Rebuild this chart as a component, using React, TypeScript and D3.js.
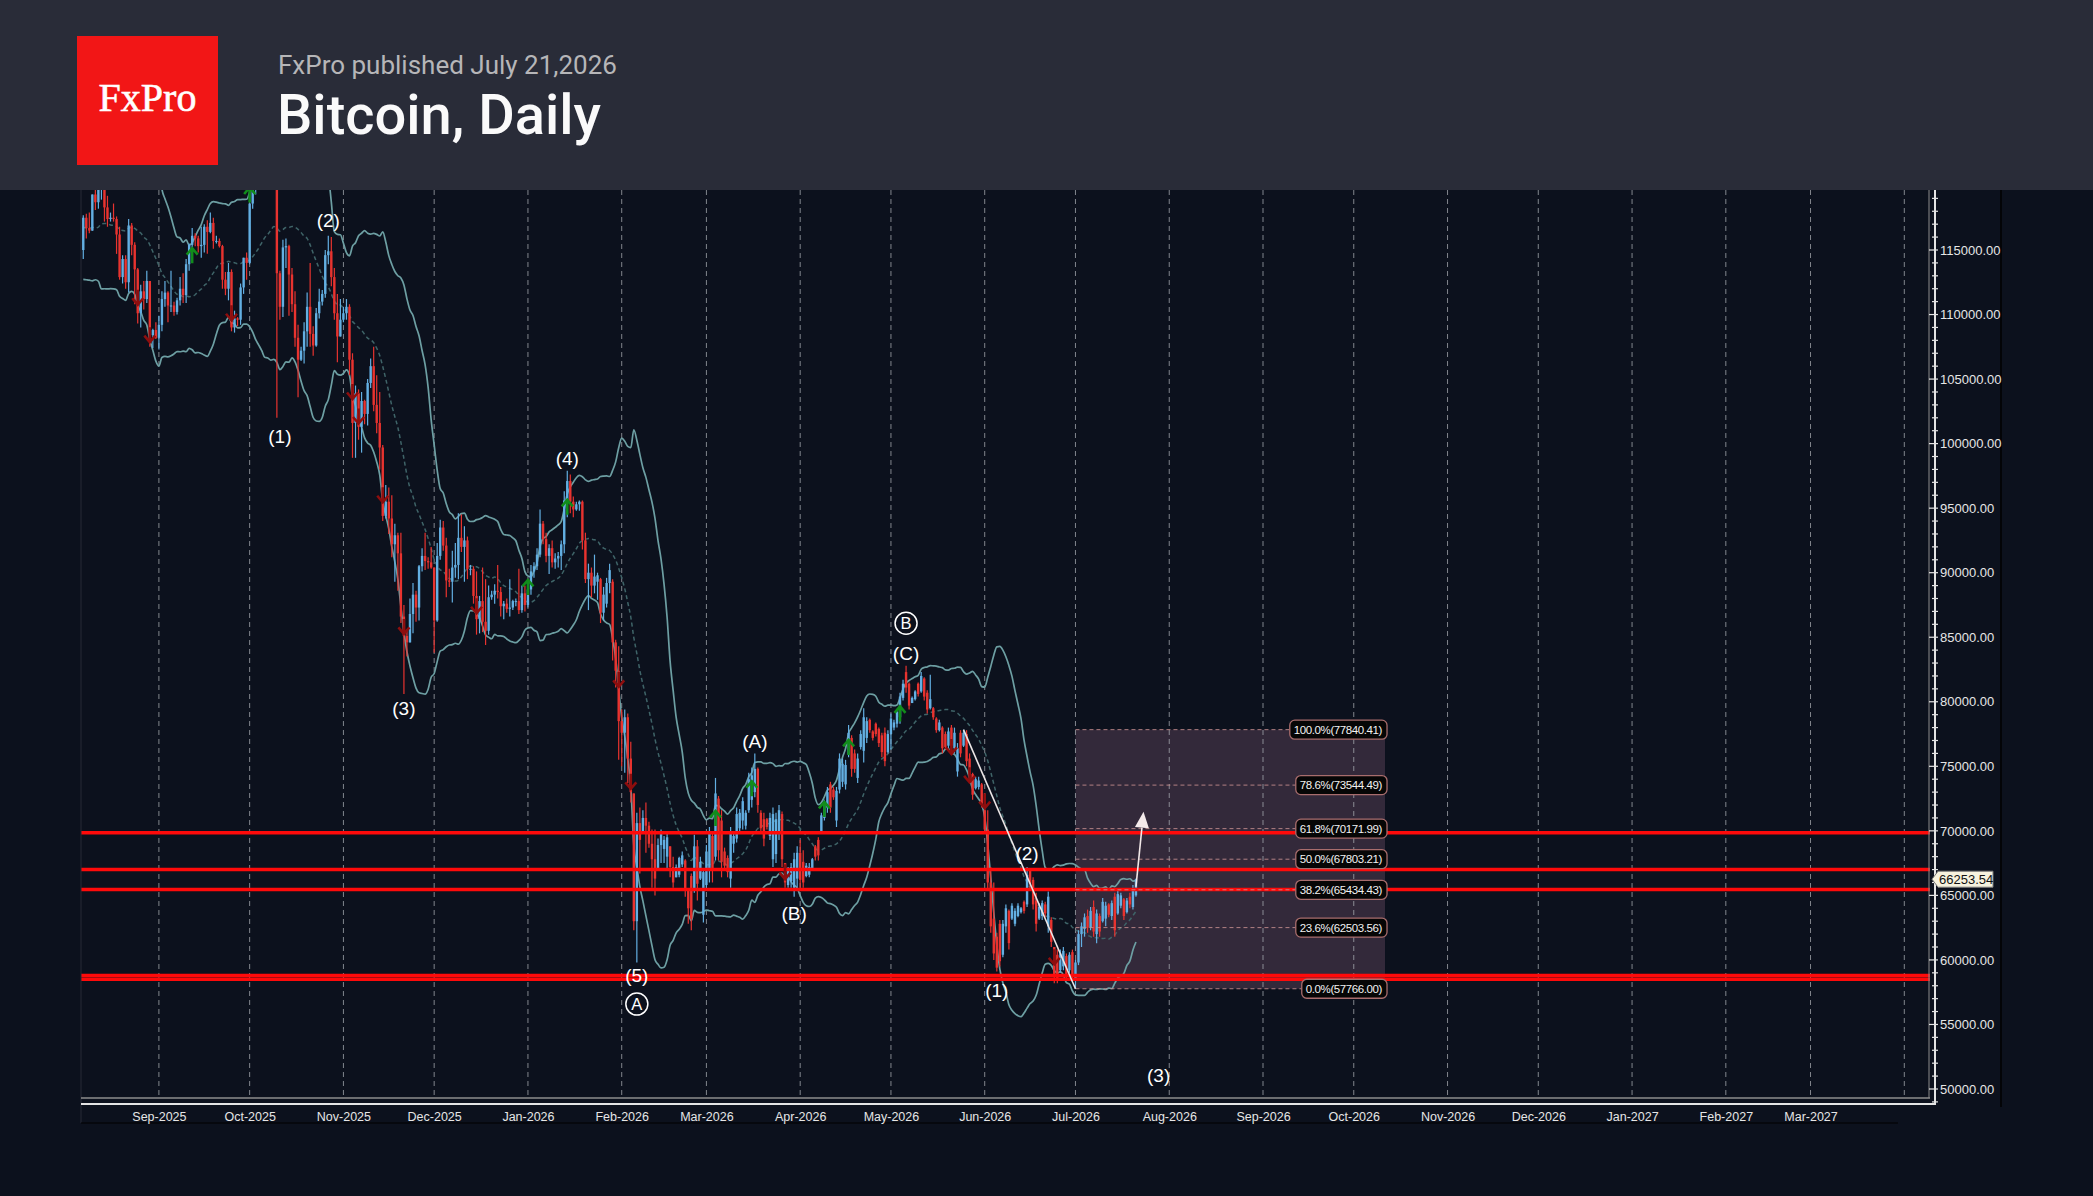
import * as d3 from 'd3';
import { useEffect, useRef } from 'react';

const WIDTH = 2093;
const HEIGHT = 1196;

// daily candles, [open, high, low, close] in thousands of USD
const aug2025 = [
  [115.0, 117.7, 114.3, 117.5], [117.5, 117.8, 115.9, 116.7], [116.7, 117.9, 116.3, 116.5],
  [116.5, 119.3, 116.5, 119.3], [119.3, 122.3, 118.1, 118.7], [118.7, 120.3, 118.2, 120.1],
  [120.1, 123.7, 118.9, 123.3], [123.3, 124.4, 117.2, 118.3], [118.3, 119.2, 116.8, 117.4],
  [117.4, 117.9, 117.2, 117.5], [117.5, 118.6, 117.2, 117.4], [117.4, 117.6, 114.7, 116.2],
  [116.2, 116.8, 112.7, 112.9], [112.9, 114.6, 112.4, 114.3], [114.3, 114.6, 112.0, 112.5],
  [112.5, 117.4, 111.7, 116.9], [116.9, 117.1, 114.6, 115.4], [115.4, 115.6, 110.8, 113.5],
  [113.5, 113.6, 109.3, 110.1], [110.1, 112.3, 109.0, 111.8], [111.8, 112.6, 110.4, 111.2],
  [111.2, 113.4, 110.9, 112.6], [112.6, 112.6, 107.5, 108.4], [108.4, 108.9, 107.4, 108.8],
  [108.8, 109.4, 108.1, 108.2],
];
const sep2025 = [
  [108.2, 109.9, 107.3, 109.2], [109.2, 111.8, 108.7, 111.2], [111.2, 112.6, 110.6, 111.7],
  [111.7, 111.8, 109.4, 110.7], [110.7, 113.4, 110.2, 110.7], [110.7, 111.0, 109.9, 110.2],
  [110.2, 111.3, 110.0, 111.1], [111.1, 112.9, 110.7, 112.0], [112.0, 113.2, 110.9, 111.5],
  [111.5, 114.3, 110.9, 113.9], [113.9, 115.5, 113.4, 115.4], [115.4, 116.7, 114.8, 116.1],
  [116.1, 116.3, 115.3, 115.9], [115.9, 116.1, 114.8, 115.3], [115.3, 116.8, 114.4, 115.4],
  [115.4, 117.0, 114.8, 116.8], [116.8, 117.3, 114.7, 116.4], [116.4, 117.9, 116.3, 117.1],
  [117.1, 117.5, 115.1, 115.7], [115.7, 116.1, 115.5, 115.7], [115.7, 115.9, 115.2, 115.3],
  [115.3, 115.4, 112.0, 112.7], [112.7, 113.3, 111.5, 112.0], [112.0, 114.0, 111.1, 113.3],
  [113.3, 113.5, 108.7, 109.0], [109.0, 110.3, 108.6, 109.7], [109.7, 109.8, 109.1, 109.6],
  [109.6, 112.4, 109.2, 112.1], [112.1, 114.4, 111.6, 114.4], [114.4, 114.8, 112.7, 114.0],
];
const oct2025 = [
  [114.0, 118.6, 113.9, 118.6], [118.6, 121.0, 118.2, 120.6], [120.6, 123.9, 119.3, 122.3],
  [122.3, 122.9, 121.7, 122.4], [122.4, 125.5, 122.2, 123.5], [123.5, 126.2, 123.1, 124.8],
  [124.8, 125.2, 120.6, 121.4], [121.4, 124.2, 121.1, 123.3], [123.3, 123.8, 119.7, 121.7],
  [121.7, 122.5, 102.0, 113.2], [113.2, 113.4, 109.6, 110.6], [110.6, 115.8, 109.8, 115.2],
  [115.2, 115.9, 113.6, 115.3], [115.3, 115.4, 109.9, 113.1], [113.1, 113.6, 110.2, 110.8],
  [110.8, 111.8, 107.5, 108.2], [108.2, 109.2, 103.6, 106.5], [106.5, 107.5, 106.4, 107.2],
  [107.2, 109.4, 106.2, 108.7], [108.7, 111.7, 107.5, 110.6], [110.6, 114.0, 107.5, 108.5],
  [108.5, 109.1, 106.8, 107.6], [107.6, 110.5, 107.5, 110.1], [110.1, 112.0, 109.7, 111.0],
  [111.0, 111.9, 110.7, 111.6], [111.6, 115.0, 111.3, 114.6], [114.6, 116.1, 113.9, 114.9],
  [114.9, 116.0, 112.2, 112.9], [112.9, 113.6, 109.6, 110.1], [110.1, 111.6, 106.3, 108.3],
  [108.3, 111.2, 108.3, 109.6],
];
const nov2025 = [
  [109.6, 110.6, 109.4, 110.1], [110.1, 111.2, 109.6, 110.6], [110.6, 110.8, 105.3, 106.5],
  [106.5, 107.0, 98.9, 101.6], [101.6, 104.5, 98.9, 103.9], [103.9, 104.2, 100.3, 101.3],
  [101.3, 104.0, 99.3, 103.3], [103.3, 103.4, 101.5, 102.3], [102.3, 105.0, 101.4, 104.7],
  [104.7, 106.6, 104.3, 106.0], [106.0, 107.5, 102.5, 103.0], [103.0, 105.3, 100.8, 101.6],
  [101.6, 104.0, 98.0, 99.7], [99.7, 99.9, 94.0, 94.4], [94.4, 96.8, 94.2, 95.5],
  [95.5, 96.6, 93.0, 94.2], [94.2, 96.0, 91.2, 92.2], [92.2, 93.8, 89.3, 92.9],
  [92.9, 93.1, 88.6, 91.5], [91.5, 93.1, 86.1, 86.6], [86.6, 87.5, 80.6, 85.1],
  [85.1, 85.6, 83.5, 84.6], [84.6, 88.0, 84.6, 86.8], [86.8, 89.2, 85.3, 88.3],
  [88.3, 88.6, 86.2, 87.3], [87.3, 90.6, 86.3, 90.5], [90.5, 91.9, 90.1, 91.3],
  [91.3, 93.1, 90.2, 90.9], [90.9, 91.2, 90.3, 90.8], [90.8, 92.0, 90.3, 90.4],
];
const dec2025 = [
  [90.4, 90.4, 83.8, 86.3], [86.3, 92.3, 86.2, 91.3], [91.3, 94.1, 91.0, 93.5],
  [93.5, 94.0, 91.7, 92.1], [92.1, 92.7, 88.1, 89.4], [89.4, 90.3, 88.9, 89.3],
  [89.3, 91.7, 87.7, 90.4], [90.4, 92.3, 89.6, 90.6], [90.6, 94.6, 89.5, 92.7],
  [92.7, 94.5, 91.6, 92.0], [92.0, 93.6, 89.3, 92.5], [92.5, 92.8, 89.5, 90.3],
  [90.3, 90.6, 89.8, 90.3], [90.3, 90.5, 87.6, 88.2], [88.2, 90.1, 85.2, 86.4],
  [86.4, 88.2, 85.3, 87.8], [87.8, 90.4, 85.4, 86.2], [86.2, 89.5, 84.4, 85.5],
  [85.5, 89.0, 85.2, 88.1], [88.1, 88.6, 87.9, 88.3], [88.3, 89.1, 87.6, 88.6],
  [88.6, 90.6, 88.0, 88.5], [88.5, 88.9, 86.6, 87.4], [87.4, 87.8, 86.4, 87.6],
  [87.6, 88.0, 86.9, 87.2], [87.2, 89.5, 86.6, 87.3], [87.3, 87.9, 87.1, 87.8],
  [87.8, 88.0, 87.4, 87.8], [87.8, 90.3, 86.8, 87.1], [87.1, 89.0, 86.9, 88.4],
  [88.4, 89.0, 87.0, 87.5],
];
const jan2026 = [
  [87.5, 88.9, 87.3, 88.7], [88.7, 90.6, 88.3, 90.1], [90.1, 90.8, 89.6, 90.5],
  [90.5, 91.9, 90.2, 91.4], [91.4, 94.9, 91.2, 93.8], [93.8, 94.0, 92.2, 92.6],
  [92.6, 93.1, 90.8, 91.3], [91.3, 92.2, 89.9, 91.9], [91.9, 92.5, 90.4, 90.8],
  [90.8, 91.5, 90.3, 91.1], [91.1, 91.6, 90.4, 91.3], [91.3, 92.5, 90.2, 92.2],
  [92.2, 96.3, 91.5, 95.6], [95.6, 97.9, 94.3, 97.1], [97.1, 97.6, 94.6, 95.5],
  [95.5, 95.9, 94.3, 94.9], [94.9, 95.5, 94.8, 95.3], [95.3, 95.6, 94.8, 95.5],
  [95.5, 95.6, 91.8, 92.5], [92.5, 93.1, 89.2, 89.5], [89.5, 90.7, 87.1, 90.0],
  [90.0, 90.4, 88.1, 89.0], [89.0, 91.4, 88.4, 89.7], [89.3, 90.0, 87.9, 89.8],
  [89.5, 89.6, 86.1, 86.9], [86.9, 88.9, 86.3, 88.3], [87.6, 89.6, 87.3, 89.2],
  [89.2, 90.7, 88.4, 90.2], [89.3, 89.5, 83.2, 84.6], [84.6, 84.8, 81.1, 82.4],
  [82.4, 84.3, 75.5, 78.5],
];
const feb2026 = [
  [78.5, 79.4, 75.0, 77.6], [77.6, 79.4, 74.5, 78.8], [78.8, 79.1, 73.7, 75.6],
  [75.6, 76.9, 72.2, 73.0], [72.9, 72.9, 62.3, 63.0], [63.0, 71.4, 59.8, 70.6],
  [70.6, 71.8, 66.7, 69.3], [69.9, 71.6, 69.8, 71.0], [71.0, 72.2, 68.3, 70.4],
  [70.4, 70.7, 68.7, 69.0], [69.0, 70.1, 65.6, 67.8], [67.8, 70.1, 65.0, 66.3],
  [67.0, 69.4, 66.9, 68.9], [68.9, 70.1, 67.5, 69.8], [68.6, 69.6, 67.5, 69.3],
  [68.0, 69.8, 67.0, 69.5], [68.8, 68.8, 66.4, 67.2], [67.2, 68.0, 65.6, 66.0],
  [66.4, 67.4, 66.4, 67.2], [66.6, 68.0, 66.4, 67.9], [67.4, 68.4, 67.2, 68.1],
  [67.7, 67.8, 64.9, 65.5], [65.4, 65.5, 62.8, 64.0], [66.5, 66.7, 62.3, 63.2],
  [65.5, 69.7, 65.2, 68.8], [68.8, 69.3, 64.6, 65.9], [66.3, 68.0, 66.2, 67.6],
  [63.5, 67.1, 62.9, 66.8],
];
const mar2026 = [
  [65.8, 68.9, 65.4, 68.4], [67.0, 70.3, 66.0, 69.8], [69.6, 69.8, 66.0, 67.0],
  [68.0, 74.1, 67.7, 72.9], [72.5, 72.7, 67.7, 68.5], [70.8, 71.6, 66.4, 67.6],
  [68.4, 68.7, 67.0, 67.3], [67.9, 68.1, 66.4, 66.8], [66.3, 70.3, 65.6, 69.8],
  [69.0, 69.8, 68.3, 69.6], [69.4, 71.8, 69.1, 71.3], [70.2, 71.7, 69.8, 71.4],
  [70.8, 72.6, 70.1, 72.3], [70.4, 71.6, 70.1, 71.4], [71.6, 74.5, 71.4, 74.0],
  [72.4, 74.9, 71.8, 74.3], [73.0, 76.0, 72.6, 74.8], [74.8, 74.9, 71.4, 72.0],
  [71.4, 71.6, 69.8, 70.2], [70.9, 71.4, 68.8, 69.4], [70.9, 71.0, 70.1, 70.3],
  [69.6, 71.4, 69.3, 71.0], [67.8, 71.8, 67.2, 71.3], [68.2, 71.4, 67.5, 70.9],
  [69.8, 72.0, 69.3, 71.6], [71.3, 71.5, 67.2, 67.8], [67.5, 67.5, 65.6, 66.0],
  [65.8, 67.2, 65.6, 66.9], [66.1, 67.5, 65.6, 67.2], [65.6, 68.3, 64.9, 67.8],
  [66.3, 68.8, 65.6, 68.3],
];
const apr2026 = [
  [68.3, 69.3, 65.6, 66.2], [67.6, 68.5, 65.6, 66.0], [66.5, 67.5, 66.4, 67.3],
  [66.6, 67.5, 66.4, 67.2], [67.1, 67.9, 67.0, 67.8], [68.8, 68.9, 67.7, 68.0],
  [69.3, 69.5, 67.7, 68.1], [69.9, 71.4, 69.8, 71.2], [71.0, 72.4, 70.8, 72.1],
  [71.8, 73.4, 71.4, 73.0], [73.6, 73.8, 71.4, 71.8], [73.2, 73.4, 72.4, 72.6],
  [70.8, 73.4, 70.3, 73.1], [73.2, 76.0, 72.9, 75.6], [73.8, 75.6, 73.4, 75.2],
  [73.6, 75.5, 73.2, 75.1], [75.9, 78.2, 75.7, 77.6], [77.2, 77.4, 74.2, 74.8],
  [76.0, 76.3, 74.5, 74.8], [74.1, 76.0, 73.7, 75.6], [76.5, 77.8, 76.3, 77.5],
  [76.2, 79.5, 75.3, 78.8], [77.2, 78.8, 76.8, 78.5], [78.6, 78.7, 77.6, 77.8],
  [77.7, 77.8, 77.0, 77.2], [78.3, 78.4, 77.3, 77.5], [77.9, 78.0, 76.5, 76.8],
  [77.4, 77.6, 75.7, 76.1], [77.6, 78.0, 75.0, 75.4], [76.1, 77.8, 76.0, 77.5],
];
const may2026 = [
  [77.5, 79.1, 76.3, 78.7], [78.0, 78.6, 77.8, 78.4], [78.3, 79.4, 78.0, 79.2],
  [78.8, 80.7, 78.3, 80.4], [80.3, 81.7, 80.1, 81.4], [82.3, 82.8, 80.7, 81.1],
  [81.4, 81.5, 79.4, 79.7], [79.9, 80.4, 79.9, 80.3], [80.2, 80.9, 80.1, 80.8],
  [81.4, 81.5, 80.4, 80.6], [80.8, 82.3, 80.7, 82.0], [81.8, 81.9, 80.1, 80.4],
  [80.7, 80.9, 79.1, 79.4], [79.5, 82.1, 79.4, 80.2], [79.5, 79.6, 78.6, 78.8],
  [78.7, 78.8, 77.6, 77.8], [77.8, 78.6, 77.7, 78.4], [78.0, 78.1, 76.0, 76.4],
  [77.5, 77.7, 76.3, 76.5], [76.6, 78.0, 76.4, 77.7], [78.0, 78.2, 76.3, 76.6],
  [76.4, 78.0, 76.0, 77.6], [74.6, 76.8, 74.2, 76.4], [77.6, 77.8, 75.7, 76.0],
  [76.6, 77.84, 76.5, 77.6], [77.5, 77.8, 75.0, 75.4], [75.6, 76.0, 73.9, 74.3],
  [74.4, 74.5, 72.4, 72.8], [73.3, 74.2, 73.2, 74.0], [73.4, 74.2, 73.2, 73.9],
  [73.6, 73.7, 71.8, 72.1],
];
const jun2026 = [
  [71.6, 71.8, 69.8, 70.1], [70.1, 71.6, 65.4, 66.0], [66.0, 67.2, 62.1, 62.6],
  [63.2, 66.0, 60.0, 60.5], [61.8, 62.1, 59.1, 59.4], [62.8, 63.1, 59.5, 59.9],
  [60.4, 63.1, 60.2, 62.8], [62.6, 64.3, 62.1, 64.0], [63.8, 63.9, 60.8, 61.3],
  [63.2, 64.4, 63.1, 64.2], [62.8, 64.0, 62.6, 63.8], [63.4, 64.4, 63.3, 64.2],
  [63.7, 64.1, 63.6, 64.0], [64.5, 64.6, 63.6, 63.8], [64.3, 67.2, 64.1, 66.6],
  [66.9, 67.1, 65.6, 65.9], [66.2, 66.4, 63.9, 64.3], [64.6, 65.2, 62.2, 62.8],
  [63.2, 64.4, 63.1, 64.1], [63.4, 64.6, 63.1, 64.4], [64.3, 64.5, 63.3, 63.6],
  [62.6, 65.3, 62.1, 64.9], [63.1, 63.3, 61.0, 61.4], [61.0, 61.0, 58.2, 58.8],
  [60.4, 60.8, 58.2, 58.6], [59.2, 60.8, 59.0, 60.5], [59.5, 61.0, 59.2, 60.7],
  [60.3, 60.5, 58.6, 58.9], [59.2, 60.6, 59.0, 60.4], [60.6, 60.8, 58.4, 58.8],
];
const jul2026 = [
  [58.6, 60.0, 57.766, 59.8], [59.8, 62.3, 59.6, 62.0], [62.0, 62.9, 61.0, 62.6],
  [62.4, 63.6, 61.8, 63.3], [63.4, 63.9, 62.1, 62.5], [62.5, 64.1, 62.3, 63.8],
  [64.1, 64.6, 61.8, 62.2], [62.0, 63.9, 61.3, 63.6], [63.4, 63.6, 61.8, 62.2],
  [63.0, 64.8, 62.9, 64.5], [63.2, 64.5, 62.6, 64.2], [64.3, 64.4, 63.3, 63.5],
  [63.4, 64.6, 63.1, 64.4], [64.9, 65.2, 61.8, 62.3], [63.6, 65.4, 63.5, 65.1],
  [64.2, 65.2, 64.0, 65.0], [64.7, 64.8, 63.1, 63.4], [63.7, 64.8, 63.6, 64.6],
  [64.9, 65.2, 64.0, 64.3], [64.1, 65.8, 63.9, 65.5], [65.0, 66.3, 64.9, 66.25354],
];

const candleMonths: [string, number[][]][] = [
  ['2025-08-07', aug2025], ['2025-09-01', sep2025], ['2025-10-01', oct2025],
  ['2025-11-01', nov2025], ['2025-12-01', dec2025], ['2026-01-01', jan2026],
  ['2026-02-01', feb2026], ['2026-03-01', mar2026], ['2026-04-01', apr2026],
  ['2026-05-01', may2026], ['2026-06-01', jun2026], ['2026-07-01', jul2026],
];

// closes before the visible window (Jul 19 - Aug 6 2025), only to start the 20 day bands
const warmupStart = '2025-07-19';
const warmupCloses = [
  117.9, 117.3, 117.4, 119.9, 118.6, 118.4, 117.6, 117.9, 119.4, 118.0,
  117.8, 117.8, 115.8, 113.3, 112.5, 114.2, 115.0, 114.1, 115.0,
];

const lastPrice = 66253.54;
const supportLevels = [69850, 67000, 65450, 58800, 58500];

const fibNames = ['100.0%', '78.6%', '61.8%', '50.0%', '38.2%', '23.6%', '0.0%'];
const fibPrices = [77840.41, 73544.49, 70171.99, 67803.21, 65434.43, 62503.56, 57766.0];
const fibFrom = '2026-07-01';
const fibTo = '2026-10-11T08:00Z';

const waveLine: [string, number][] = [['2026-05-25', 77840.41], ['2026-07-01', 57766]];
const forecast: [string, number][] = [['2026-07-21', 65670], ['2026-07-23T12:00Z', 71480]];

const upSignals: [string, number][] = [
  ['2025-09-12', 114600], ['2025-10-01', 119300], ['2026-01-01', 88900],
  ['2026-01-14', 95100], ['2026-03-04', 71000], ['2026-03-16', 73300],
  ['2026-04-09', 71700], ['2026-04-17', 76500], ['2026-05-04', 79100],
];
const downSignals: [string, number][] = [
  ['2025-08-25', 111300], ['2025-08-29', 108400], ['2025-09-25', 110100],
  ['2025-11-04', 104000], ['2025-11-06', 102100], ['2025-11-14', 96000],
  ['2025-11-21', 85800], ['2025-12-15', 87400], ['2026-01-31', 81700],
  ['2026-02-04', 73800], ['2026-03-27', 66800], ['2026-05-21', 76500],
  ['2026-05-27', 74300], ['2026-06-01', 72300], ['2026-06-24', 60200],
];

const waveLabels: [string, string, number][] = [
  ['(1)', '2025-10-11', 100580], ['(2)', '2025-10-27', 117340], ['(3)', '2025-11-21', 79490],
  ['(4)', '2026-01-14', 98860], ['(5)', '2026-02-06', 58830], ['(A)', '2026-03-17', 76910],
  ['(B)', '2026-03-30', 63660], ['(C)', '2026-05-06', 83750], ['(1)', '2026-06-05', 57670],
  ['(2)', '2026-06-15', 68260], ['(3)', '2026-07-28T12:00Z', 51110],
];
const circledLabels: [string, string, number][] = [
  ['A', '2026-02-06', 56580], ['B', '2026-05-06', 86080],
];

const plot = { left: 81, right: 1930, top: 190, bottom: 1098 };
const axisFont = '"Liberation Sans", Arial, sans-serif';

export default function App() {
  const ref = useRef<SVGSVGElement>(null);

  useEffect(() => {
    const svg = d3.select(ref.current);
    svg.selectAll('*').remove();

    const day = (s: string) => new Date(s.length === 10 ? s + 'T00:00:00Z' : s);

    const candles = candleMonths.flatMap(([start, rows]) =>
      rows.map(([o, h, l, c], i) => ({
        date: d3.utcDay.offset(day(start), i),
        open: o * 1000,
        high: h * 1000,
        low: l * 1000,
        close: c * 1000,
      }))
    );

    const x = d3
      .scaleUtc()
      .domain([day('2025-09-01'), day('2027-04-01')])
      .range([158.9, 1904.3]);
    const y = d3.scaleLinear().domain([50000, 115000]).range([1089, 250]);

    // background + header
    svg.append('rect').attr('width', WIDTH).attr('height', HEIGHT).attr('fill', '#0c111d');
    svg.append('rect').attr('width', WIDTH).attr('height', 190).attr('fill', '#292c38');
    svg.append('rect').attr('x', 77).attr('y', 36).attr('width', 141).attr('height', 129).attr('fill', '#f21616');
    svg
      .append('text')
      .attr('x', 147.5)
      .attr('y', 111)
      .attr('text-anchor', 'middle')
      .attr('font-family', '"Liberation Serif", "DejaVu Serif", serif')
      .attr('font-size', 40)
      .attr('fill', '#fff')
      .attr('stroke', '#fff')
      .attr('stroke-width', 0.6)
      .text('FxPro');
    svg
      .append('text')
      .attr('x', 278)
      .attr('y', 74)
      .attr('font-family', 'Roboto, sans-serif')
      .attr('font-size', 26)
      .attr('fill', '#b6b6b8')
      .text('FxPro published July 21,2026');
    svg
      .append('text')
      .attr('x', 277)
      .attr('y', 134)
      .attr('font-family', 'Roboto, sans-serif')
      .attr('font-weight', 500)
      .attr('font-size', 56)
      .attr('fill', '#fafafa')
      .text('Bitcoin, Daily');

    svg
      .append('defs')
      .append('clipPath')
      .attr('id', 'plot-clip')
      .append('rect')
      .attr('x', plot.left)
      .attr('y', plot.top)
      .attr('width', plot.right - plot.left)
      .attr('height', plot.bottom - plot.top);

    const g = svg.append('g').attr('clip-path', 'url(#plot-clip)');

    // fibonacci box
    const fx0 = x(day(fibFrom));
    const fx1 = x(day(fibTo));
    g.append('rect')
      .attr('x', fx0)
      .attr('y', y(fibPrices[0]))
      .attr('width', fx1 - fx0)
      .attr('height', y(fibPrices[fibPrices.length - 1]) - y(fibPrices[0]))
      .attr('fill', '#33293a');

    // month grid
    const months = d3.utcMonth.range(day('2025-09-01'), day('2027-04-02'));
    g.selectAll('line.grid')
      .data(months)
      .join('line')
      .attr('x1', (d) => x(d))
      .attr('x2', (d) => x(d))
      .attr('y1', plot.top)
      .attr('y2', plot.bottom)
      .attr('stroke', '#a9adb3')
      .attr('stroke-opacity', 0.75)
      .attr('stroke-dasharray', '5,4');

    // bollinger bands (20, 2)
    const closes = [...warmupCloses.map((c) => c * 1000), ...candles.map((c) => c.close)];
    const dates = [
      ...warmupCloses.map((_, i) => d3.utcDay.offset(day(warmupStart), i)),
      ...candles.map((c) => c.date),
    ];
    const bands = closes.slice(19).map((_, k) => {
      const win = closes.slice(k, k + 20);
      const m = d3.mean(win) as number;
      const sd = Math.sqrt(d3.mean(win, (v) => (v - m) ** 2) as number);
      return { date: dates[k + 19], mid: m, up: m + 2 * sd, lo: m - 2 * sd };
    });
    const bandLine = (key: 'mid' | 'up' | 'lo') =>
      d3
        .line<(typeof bands)[number]>()
        .x((d) => x(d.date))
        .y((d) => y(d[key]))
        .curve(d3.curveMonotoneX)(bands);
    g.append('path').attr('d', bandLine('up')).attr('fill', 'none').attr('stroke', '#6d9fa3').attr('stroke-width', 1.7);
    g.append('path').attr('d', bandLine('lo')).attr('fill', 'none').attr('stroke', '#6d9fa3').attr('stroke-width', 1.7);
    g.append('path')
      .attr('d', bandLine('mid'))
      .attr('fill', 'none')
      .attr('stroke', '#3f6468')
      .attr('stroke-width', 1.5)
      .attr('stroke-dasharray', '4,3');

    // candles
    const colour = (d) => (d.close >= d.open ? '#63afe2' : '#e8332f');
    const cg = g.append('g').selectAll('g').data(candles).join('g');
    cg.append('line')
      .attr('x1', (d) => x(d.date))
      .attr('x2', (d) => x(d.date))
      .attr('y1', (d) => y(d.high))
      .attr('y2', (d) => y(d.low))
      .attr('stroke', colour)
      .attr('stroke-width', 1.2);
    cg.append('rect')
      .attr('x', (d) => x(d.date) - 1.2)
      .attr('width', 2.4)
      .attr('y', (d) => y(Math.max(d.open, d.close)))
      .attr('height', (d) => Math.max(1, Math.abs(y(d.open) - y(d.close))))
      .attr('fill', colour);

    // horizontal levels
    g.selectAll('line.level')
      .data(supportLevels)
      .join('line')
      .attr('x1', plot.left)
      .attr('x2', plot.right)
      .attr('y1', (d) => y(d))
      .attr('y2', (d) => y(d))
      .attr('stroke', '#ff0a0a')
      .attr('stroke-width', 3.5);

    // fibonacci levels and tags
    const fibRight = fx1 + 2;
    fibPrices.forEach((p, i) => {
      const yy = y(p);
      const tag = g.append('g');
      const t = tag
        .append('text')
        .attr('y', yy)
        .attr('dy', '0.36em')
        .attr('font-family', axisFont)
        .attr('font-size', 11.5)
        .attr('letter-spacing', -0.4)
        .attr('fill', '#f2f2f2')
        .text(`${fibNames[i]}(${p.toFixed(2)})`);
      const w = (t.node() as SVGTextElement).getComputedTextLength();
      const bx = fibRight - w - 9;
      t.attr('x', bx + 4);
      tag
        .insert('rect', 'text')
        .attr('x', bx)
        .attr('y', yy - 9.5)
        .attr('width', w + 9)
        .attr('height', 19)
        .attr('rx', 5)
        .attr('fill', '#060606')
        .attr('stroke', '#a86d6d')
        .attr('stroke-width', 1.3);
      g.insert('line', () => tag.node())
        .attr('x1', fx0)
        .attr('x2', bx)
        .attr('y1', yy)
        .attr('y2', yy)
        .attr('stroke', '#c99090')
        .attr('stroke-opacity', 0.85)
        .attr('stroke-dasharray', '4,3');
    });

    // drawn wave line
    g.append('path')
      .attr('d', d3.line<[string, number]>().x((d) => x(day(d[0]))).y((d) => y(d[1]))(waveLine))
      .attr('fill', 'none')
      .attr('stroke', '#ece6e6')
      .attr('stroke-width', 1.6);

    // forecast arrow
    const [ax0, ay0] = [x(day(forecast[0][0])), y(forecast[0][1])];
    const [ax1, ay1] = [x(day(forecast[1][0])), y(forecast[1][1])];
    const ang = Math.atan2(ay1 - ay0, ax1 - ax0);
    const headLen = 16;
    const bxm = ax1 - headLen * Math.cos(ang);
    const bym = ay1 - headLen * Math.sin(ang);
    const px = -Math.sin(ang) * 7;
    const py = Math.cos(ang) * 7;
    g.append('line')
      .attr('x1', ax0)
      .attr('y1', ay0)
      .attr('x2', bxm)
      .attr('y2', bym)
      .attr('stroke', '#f2e8e8')
      .attr('stroke-width', 1.6);
    g.append('path')
      .attr('d', `M${ax1},${ay1}L${bxm + px},${bym + py}L${bxm - px},${bym - py}Z`)
      .attr('fill', '#f4eaea');

    // signal arrows
    const arrowPath = 'M0,8L0,-6M-5.5,-0.5L0,-7L5.5,-0.5';
    g.selectAll('path.up')
      .data(upSignals)
      .join('path')
      .attr('d', arrowPath)
      .attr('transform', (d) => `translate(${x(day(d[0]))},${y(d[1])})`)
      .attr('fill', 'none')
      .attr('stroke', '#118c1b')
      .attr('stroke-width', 2.6);
    g.selectAll('path.down')
      .data(downSignals)
      .join('path')
      .attr('d', arrowPath)
      .attr('transform', (d) => `translate(${x(day(d[0]))},${y(d[1])}) scale(1,-1)`)
      .attr('fill', 'none')
      .attr('stroke', '#8e0e0e')
      .attr('stroke-width', 2.6);

    // wave labels
    g.selectAll('text.wave')
      .data(waveLabels)
      .join('text')
      .attr('x', (d) => x(day(d[1])))
      .attr('y', (d) => y(d[2]))
      .attr('dy', '0.36em')
      .attr('text-anchor', 'middle')
      .attr('font-family', axisFont)
      .attr('font-size', 19)
      .attr('fill', '#ffffff')
      .text((d) => d[0]);
    const circ = g.selectAll('g.circ').data(circledLabels).join('g')
      .attr('transform', (d) => `translate(${x(day(d[1]))},${y(d[2])})`);
    circ.append('circle').attr('r', 11).attr('fill', 'none').attr('stroke', '#fff').attr('stroke-width', 1.5);
    circ.append('text')
      .attr('dy', '0.36em')
      .attr('text-anchor', 'middle')
      .attr('font-family', axisFont)
      .attr('font-size', 16.5)
      .attr('fill', '#fff')
      .text((d) => d[0]);

    // frame
    svg.append('line').attr('x1', plot.left).attr('x2', plot.left).attr('y1', plot.top).attr('y2', 1123).attr('stroke', '#262b36');
    svg.append('line').attr('x1', plot.left).attr('x2', plot.right).attr('y1', plot.bottom).attr('y2', plot.bottom)
      .attr('stroke', '#8c8c8c').attr('stroke-width', 1.5);
    svg.append('line').attr('x1', plot.right - 1).attr('x2', plot.right - 1).attr('y1', plot.top).attr('y2', plot.bottom)
      .attr('stroke', '#8c8c8c').attr('stroke-width', 1);
    svg.append('line').attr('x1', plot.left).attr('x2', 1936).attr('y1', 1104).attr('y2', 1104)
      .attr('stroke', '#e4e4e4').attr('stroke-width', 2);
    svg.append('line').attr('x1', plot.left).attr('x2', 1898).attr('y1', 1123).attr('y2', 1123).attr('stroke', '#000');
    svg.append('line').attr('x1', 2001).attr('x2', 2001).attr('y1', plot.top).attr('y2', 1107).attr('stroke', '#000').attr('stroke-width', 1.5);

    // x axis
    const xAxis = d3
      .axisBottom(x)
      .tickValues(months.slice(0, -1))
      .tickFormat((d) => d3.utcFormat('%b-%Y')(d as Date))
      .tickSize(0)
      .tickPadding(8);
    svg
      .append('g')
      .attr('transform', 'translate(0,1104)')
      .call(xAxis)
      .call((a) => a.select('.domain').remove())
      .call((a) =>
        a.selectAll('text').attr('fill', '#e6e6e6').attr('font-family', axisFont).attr('font-size', 12.5)
      );

    // y axis
    svg.append('line').attr('x1', 1935).attr('x2', 1935).attr('y1', plot.top).attr('y2', 1105)
      .attr('stroke', '#e4e4e4').attr('stroke-width', 2);
    const minor = d3.range(49000, 120000, 1000);
    svg.append('g').selectAll('line').data(minor).join('line')
      .attr('x1', (d) => (d % 5000 === 0 ? 1929 : 1932))
      .attr('x2', 1938)
      .attr('y1', (d) => y(d))
      .attr('y2', (d) => y(d))
      .attr('stroke', '#e4e4e4')
      .attr('stroke-width', 1.2);
    const yAxis = d3
      .axisRight(y)
      .tickValues(d3.range(50000, 120000, 5000))
      .tickFormat((d) => (d as number).toFixed(2))
      .tickSize(0)
      .tickPadding(4);
    svg
      .append('g')
      .attr('transform', 'translate(1936,0)')
      .call(yAxis)
      .call((a) => a.select('.domain').remove())
      .call((a) =>
        a.selectAll('text').attr('fill', '#e6e6e6').attr('font-family', axisFont).attr('font-size', 13)
      );

    // last price tag
    const ly = y(lastPrice);
    svg.append('path')
      .attr('d', `M1932,${ly}L1938,${ly - 8}L1993,${ly - 8}L1993,${ly + 8}L1938,${ly + 8}Z`)
      .attr('fill', '#f6f2de')
      .attr('stroke', '#7a7a7a');
    svg.append('text')
      .attr('x', 1939)
      .attr('y', ly)
      .attr('dy', '0.36em')
      .attr('font-family', axisFont)
      .attr('font-size', 13)
      .attr('fill', '#111')
      .text(lastPrice.toFixed(2));
  }, []);

  return (
    <svg
      ref={ref}
      width={WIDTH}
      height={HEIGHT}
      style={{ position: 'absolute', left: 0, top: 0, display: 'block' }}
    />
  );
}
